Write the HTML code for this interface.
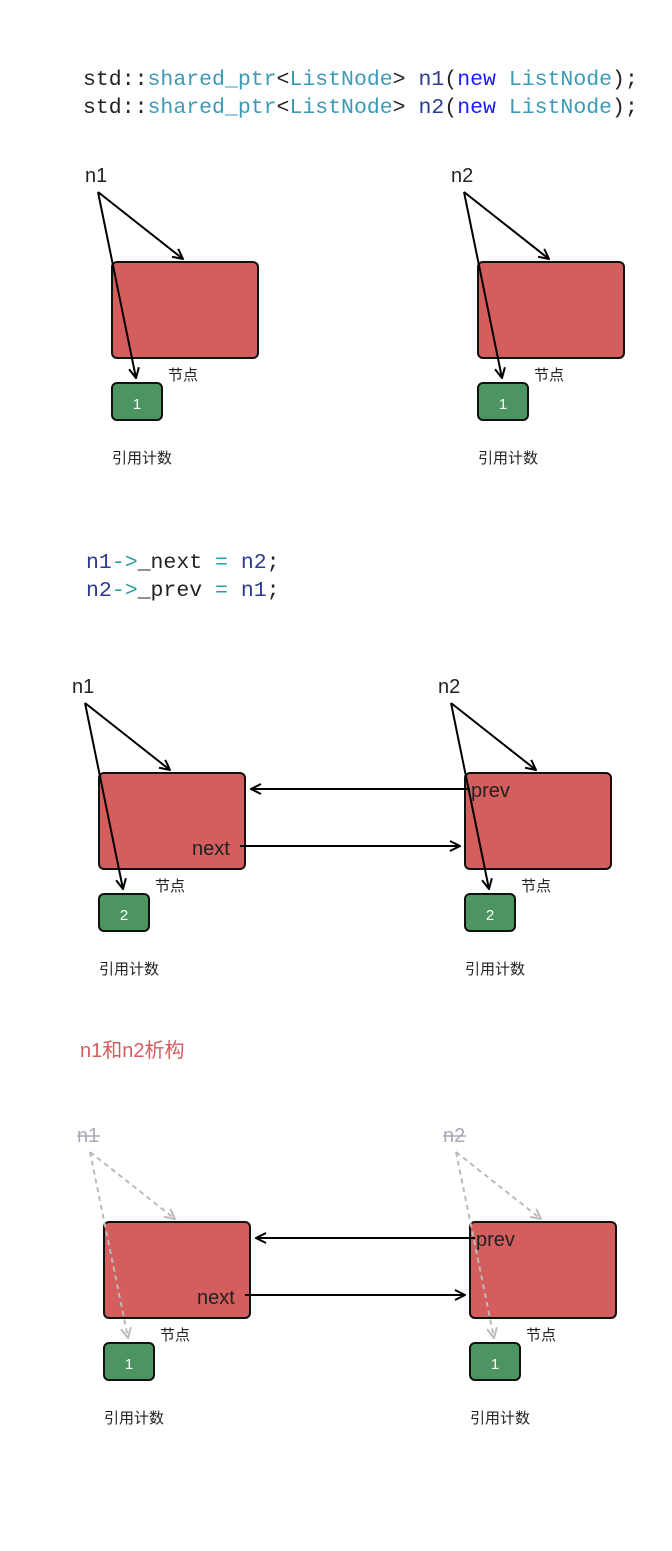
<!DOCTYPE html>
<html><head><meta charset="utf-8">
<style>
html,body{margin:0;padding:0;background:#fff;}
svg{display:block;}
.code{font-family:"Liberation Mono",monospace;font-size:21.5px;}
.lbl{font-family:"Liberation Sans","Noto Sans CJK SC",sans-serif;}
</style></head><body>
<svg width="672" height="1551" viewBox="0 0 672 1551" xmlns="http://www.w3.org/2000/svg">
<defs>
<marker id="ab" viewBox="0 0 12 12" refX="11" refY="6" markerWidth="12" markerHeight="12" markerUnits="userSpaceOnUse" orient="auto">
<polyline points="1,1 11,6 1,11" fill="none" stroke="#000" stroke-width="2"/></marker>
<marker id="ag" viewBox="0 0 12 12" refX="11" refY="6" markerWidth="12" markerHeight="12" markerUnits="userSpaceOnUse" orient="auto">
<polyline points="1,1 11,6 1,11" fill="none" stroke="#bbb" stroke-width="2"/></marker>
</defs>

<!-- code 1 -->
<text class="code" x="83" y="85"><tspan fill="#222">std::</tspan><tspan fill="#3a9ab8">shared_ptr</tspan><tspan fill="#222">&lt;</tspan><tspan fill="#3a9ab8">ListNode</tspan><tspan fill="#222">&gt; </tspan><tspan fill="#2c3b8f">n1</tspan><tspan fill="#222">(</tspan><tspan fill="#1a1aff">new</tspan><tspan fill="#222"> </tspan><tspan fill="#3a9ab8">ListNode</tspan><tspan fill="#222">);</tspan></text>
<text class="code" x="83" y="113"><tspan fill="#222">std::</tspan><tspan fill="#3a9ab8">shared_ptr</tspan><tspan fill="#222">&lt;</tspan><tspan fill="#3a9ab8">ListNode</tspan><tspan fill="#222">&gt; </tspan><tspan fill="#2c3b8f">n2</tspan><tspan fill="#222">(</tspan><tspan fill="#1a1aff">new</tspan><tspan fill="#222"> </tspan><tspan fill="#3a9ab8">ListNode</tspan><tspan fill="#222">);</tspan></text>

<!-- diagram 1 -->
<g>
<rect x="112" y="262" width="146" height="96" rx="5" fill="#d45d5d" stroke="#111" stroke-width="2"/>
<rect x="112" y="383" width="50" height="37" rx="5" fill="#4c9460" stroke="#111" stroke-width="2"/>
<text class="lbl" x="137" y="409" font-size="15" fill="#fff" text-anchor="middle">1</text>
<text class="lbl" x="168" y="380" font-size="15" fill="#222">节点</text>
<text class="lbl" x="112" y="463" font-size="15" fill="#222">引用计数</text>
<text class="lbl" x="85" y="182" font-size="20" fill="#222">n1</text>
<line x1="98" y1="192" x2="183" y2="259" stroke="#000" stroke-width="2" marker-end="url(#ab)"/>
<line x1="98" y1="192" x2="136" y2="378" stroke="#000" stroke-width="2" marker-end="url(#ab)"/>
</g>
<g transform="translate(366,0)">
<rect x="112" y="262" width="146" height="96" rx="5" fill="#d45d5d" stroke="#111" stroke-width="2"/>
<rect x="112" y="383" width="50" height="37" rx="5" fill="#4c9460" stroke="#111" stroke-width="2"/>
<text class="lbl" x="137" y="409" font-size="15" fill="#fff" text-anchor="middle">1</text>
<text class="lbl" x="168" y="380" font-size="15" fill="#222">节点</text>
<text class="lbl" x="112" y="463" font-size="15" fill="#222">引用计数</text>
<text class="lbl" x="85" y="182" font-size="20" fill="#222">n2</text>
<line x1="98" y1="192" x2="183" y2="259" stroke="#000" stroke-width="2" marker-end="url(#ab)"/>
<line x1="98" y1="192" x2="136" y2="378" stroke="#000" stroke-width="2" marker-end="url(#ab)"/>
</g>

<!-- code 2 -->
<text class="code" x="86" y="568"><tspan fill="#2c3b8f">n1</tspan><tspan fill="#2aa0a0">-&gt;</tspan><tspan fill="#222">_next </tspan><tspan fill="#2aa0a0">=</tspan><tspan fill="#222"> </tspan><tspan fill="#2c3b8f">n2</tspan><tspan fill="#222">;</tspan></text>
<text class="code" x="86" y="596"><tspan fill="#2c3b8f">n2</tspan><tspan fill="#2aa0a0">-&gt;</tspan><tspan fill="#222">_prev </tspan><tspan fill="#2aa0a0">=</tspan><tspan fill="#222"> </tspan><tspan fill="#2c3b8f">n1</tspan><tspan fill="#222">;</tspan></text>

<!-- diagram 2 -->
<g transform="translate(-13,511)">
<rect x="112" y="262" width="146" height="96" rx="5" fill="#d45d5d" stroke="#111" stroke-width="2"/>
<rect x="112" y="383" width="50" height="37" rx="5" fill="#4c9460" stroke="#111" stroke-width="2"/>
<text class="lbl" x="137" y="409" font-size="15" fill="#fff" text-anchor="middle">2</text>
<text class="lbl" x="168" y="380" font-size="15" fill="#222">节点</text>
<text class="lbl" x="112" y="463" font-size="15" fill="#222">引用计数</text>
<text class="lbl" x="85" y="182" font-size="20" fill="#222">n1</text>
<text class="lbl" x="205" y="344" font-size="20" fill="#222">next</text>
<line x1="98" y1="192" x2="183" y2="259" stroke="#000" stroke-width="2" marker-end="url(#ab)"/>
<line x1="98" y1="192" x2="136" y2="378" stroke="#000" stroke-width="2" marker-end="url(#ab)"/>
</g>
<g transform="translate(353,511)">
<rect x="112" y="262" width="146" height="96" rx="5" fill="#d45d5d" stroke="#111" stroke-width="2"/>
<rect x="112" y="383" width="50" height="37" rx="5" fill="#4c9460" stroke="#111" stroke-width="2"/>
<text class="lbl" x="137" y="409" font-size="15" fill="#fff" text-anchor="middle">2</text>
<text class="lbl" x="168" y="380" font-size="15" fill="#222">节点</text>
<text class="lbl" x="112" y="463" font-size="15" fill="#222">引用计数</text>
<text class="lbl" x="85" y="182" font-size="20" fill="#222">n2</text>
<text class="lbl" x="118" y="286" font-size="20" fill="#222">prev</text>
<line x1="98" y1="192" x2="183" y2="259" stroke="#000" stroke-width="2" marker-end="url(#ab)"/>
<line x1="98" y1="192" x2="136" y2="378" stroke="#000" stroke-width="2" marker-end="url(#ab)"/>
</g>
<line x1="470" y1="789" x2="251" y2="789" stroke="#000" stroke-width="2" marker-end="url(#ab)"/>
<line x1="240" y1="846" x2="460" y2="846" stroke="#000" stroke-width="2" marker-end="url(#ab)"/>

<!-- title -->
<text class="lbl" x="80" y="1057" font-size="20" fill="#d45d5d">n1和n2析构</text>

<!-- diagram 3 -->
<g transform="translate(-8,960)">
<rect x="112" y="262" width="146" height="96" rx="5" fill="#d45d5d" stroke="#111" stroke-width="2"/>
<rect x="112" y="383" width="50" height="37" rx="5" fill="#4c9460" stroke="#111" stroke-width="2"/>
<text class="lbl" x="137" y="409" font-size="15" fill="#fff" text-anchor="middle">1</text>
<text class="lbl" x="168" y="380" font-size="15" fill="#222">节点</text>
<text class="lbl" x="112" y="463" font-size="15" fill="#222">引用计数</text>
<text class="lbl" x="85" y="182" font-size="20" fill="#aab">n1</text>
<line x1="85" y1="176" x2="108" y2="176" stroke="#aab" stroke-width="1.5"/>
<text class="lbl" x="205" y="344" font-size="20" fill="#222">next</text>
<line x1="98" y1="192" x2="183" y2="259" stroke="#bbb" stroke-width="2" stroke-dasharray="5,4" marker-end="url(#ag)"/>
<line x1="98" y1="192" x2="136" y2="378" stroke="#bbb" stroke-width="2" stroke-dasharray="5,4" marker-end="url(#ag)"/>
</g>
<g transform="translate(358,960)">
<rect x="112" y="262" width="146" height="96" rx="5" fill="#d45d5d" stroke="#111" stroke-width="2"/>
<rect x="112" y="383" width="50" height="37" rx="5" fill="#4c9460" stroke="#111" stroke-width="2"/>
<text class="lbl" x="137" y="409" font-size="15" fill="#fff" text-anchor="middle">1</text>
<text class="lbl" x="168" y="380" font-size="15" fill="#222">节点</text>
<text class="lbl" x="112" y="463" font-size="15" fill="#222">引用计数</text>
<text class="lbl" x="85" y="182" font-size="20" fill="#aab">n2</text>
<line x1="85" y1="176" x2="108" y2="176" stroke="#aab" stroke-width="1.5"/>
<text class="lbl" x="118" y="286" font-size="20" fill="#222">prev</text>
<line x1="98" y1="192" x2="183" y2="259" stroke="#bbb" stroke-width="2" stroke-dasharray="5,4" marker-end="url(#ag)"/>
<line x1="98" y1="192" x2="136" y2="378" stroke="#bbb" stroke-width="2" stroke-dasharray="5,4" marker-end="url(#ag)"/>
</g>
<line x1="475" y1="1238" x2="256" y2="1238" stroke="#000" stroke-width="2" marker-end="url(#ab)"/>
<line x1="245" y1="1295" x2="465" y2="1295" stroke="#000" stroke-width="2" marker-end="url(#ab)"/>
</svg>
</body></html>
